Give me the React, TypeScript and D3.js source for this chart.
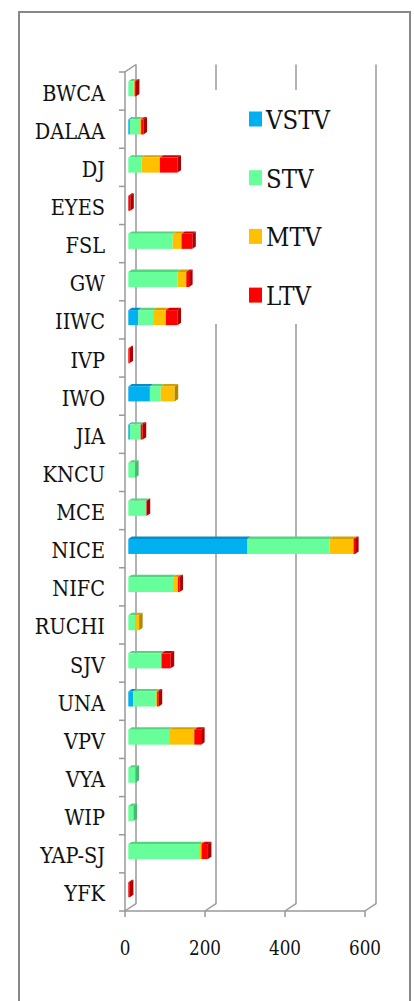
import React, { useEffect } from 'react';
import * as d3 from 'd3';

const categories = ['BWCA', 'DALAA', 'DJ', 'EYES', 'FSL', 'GW', 'IIWC', 'IVP', 'IWO', 'JIA', 'KNCU', 'MCE', 'NICE', 'NIFC', 'RUCHI', 'SJV', 'UNA', 'VPV', 'VYA', 'WIP', 'YAP-SJ', 'YFK'];
const seriesNames = ['VSTV', 'STV', 'MTV', 'LTV'];
const vstv = [0, 4, 0, 0, 0, 0, 25, 0, 54, 4, 0, 0, 298, 0, 0, 0, 12, 0, 0, 0, 0, 0];
const stv = [13, 23, 33, 0, 111, 123, 37, 0, 27, 27, 17, 45, 205, 112, 17, 83, 57, 102, 18, 13, 177, 0];
const mtv = [3, 5, 46, 0, 22, 22, 32, 0, 35, 0, 0, 0, 60, 12, 10, 0, 3, 63, 0, 0, 6, 0];
const ltv = [3, 6, 44, 5, 27, 7, 29, 3, 0, 5, 0, 1, 4, 4, 0, 23, 4, 17, 0, 0, 16, 4];
const xTicks = [0, 200, 400, 600];

const frontColors = ['#00B0F0', '#66FF99', '#FFC000', '#FF0000'];
const topColors = ['#0090C8', '#55D47F', '#D4A000', '#D00000'];
const sideColors = ['#0080B0', '#48B870', '#B08800', '#B00000'];

const FONT = "'DejaVu Serif', serif";

const App = () => {
    useEffect(() => {
        document.body.style.margin = '0';
    }, []);

    const width = 414;
    const height = 1001;
    const left = 125;
    const right = 365;
    const top = 72;
    const bottom = 911;
    const depthX = 11;
    const depthY = -7.5;

    const x = d3.scaleLinear().domain([0, 600]).range([left, right]);
    const y = d3.scaleBand().domain(categories).range([top, bottom]);
    const barH = 15;
    const fx = depthX * 0.3;
    const fy = depthY * 0.3;
    const bx = depthX * 0.32;
    const by = depthY * 0.32;

    const rows = categories.map((c, i) => ({ c, vals: [vstv[i], stv[i], mtv[i], ltv[i]] }));
    const stack = d3.stack<any>().keys([0, 1, 2, 3] as any).value((d: any, k: any) => d.vals[k]);
    const layers = stack(rows);

    const grid = '#999';

    const label = (tx: number, ty: number, txt: string, size: number, sx: number, anchor: string, key?: string) => (
        <text key={key} transform={`translate(${tx},${ty}) scale(${sx},1)`} style={{ fontFamily: FONT, fontSize: size }} textAnchor={anchor} fill="#111">{txt}</text>
    );

    return (
        <svg width={width} height={height} style={{ display: 'block' }}>
            <rect x={0} y={0} width={width} height={height} fill="#fff" />
            <rect x={19} y={12} width={391} height={1010} fill="none" stroke="#888" strokeWidth={2} />

            {/* back wall gridlines and floor diagonals */}
            {xTicks.map(t => (
                <path key={t} d={`M${x(t) + depthX},${top + depthY}V${bottom + depthY}L${x(t)},${bottom}`} fill="none" stroke={grid} strokeWidth={1.5} />
            ))}
            {/* left wall */}
            <path d={`M${left},${bottom}V${top}L${left + depthX},${top + depthY}`} fill="none" stroke={grid} strokeWidth={1.5} />
            <line x1={left} x2={right} y1={bottom} y2={bottom} stroke={grid} strokeWidth={1.5} />
            {d3.range(categories.length + 1).map(k => {
                const yy = top + k * y.step();
                return <line key={k} x1={left - 6} x2={left} y1={yy} y2={yy} stroke={grid} strokeWidth={1.5} />;
            })}
            {xTicks.map(t => (
                <line key={'t' + t} x1={x(t)} x2={x(t)} y1={bottom} y2={bottom + 6} stroke={grid} strokeWidth={1.5} />
            ))}

            {/* legend background */}
            <rect x={208} y={90} width={140} height={234} fill="#fff" />

            {/* bars */}
            {rows.map((r, i) => {
                const cy = (y(r.c) as number) + y.bandwidth() / 2 + fy;
                const y0 = cy - barH / 2;
                const segs = layers.map((l, k) => ({ k, a: l[i][0], b: l[i][1] })).filter(s => s.b > s.a);
                const last = segs[segs.length - 1];
                return (
                    <g key={r.c}>
                        {segs.map(s => {
                            const xa = x(s.a) + fx;
                            const xb = x(s.b) + fx;
                            return (
                                <g key={s.k}>
                                    <path d={`M${xa},${y0}L${xa + bx},${y0 + by}L${xb + bx},${y0 + by}L${xb},${y0}Z`} fill={topColors[s.k]} />
                                    <rect x={xa} y={y0} width={xb - xa} height={barH} fill={frontColors[s.k]} />
                                </g>
                            );
                        })}
                        {last && (
                            <path d={`M${x(last.b) + fx},${y0}L${x(last.b) + fx + bx},${y0 + by}L${x(last.b) + fx + bx},${y0 + by + barH}L${x(last.b) + fx},${y0 + barH}Z`} fill={sideColors[last.k]} />
                        )}
                    </g>
                );
            })}

            {/* category labels */}
            {categories.map(c => label(105, (y(c) as number) + y.bandwidth() / 2 + 9.5, c, 21.5, 0.9, 'end', c))}

            {/* x tick labels */}
            {xTicks.map(t => label(x(t), 955, String(t), 20.5, 0.82, 'middle', 'l' + t))}

            {/* legend */}
            {seriesNames.map((s, k) => {
                const cy = 119 + k * 58.7;
                return (
                    <g key={s}>
                        <rect x={249} y={cy - 7.5} width={13} height={15} fill={frontColors[k]} />
                        {label(266, cy + 10, s, 26, 0.88, 'start')}
                    </g>
                );
            })}
        </svg>
    );
};

export default App;
